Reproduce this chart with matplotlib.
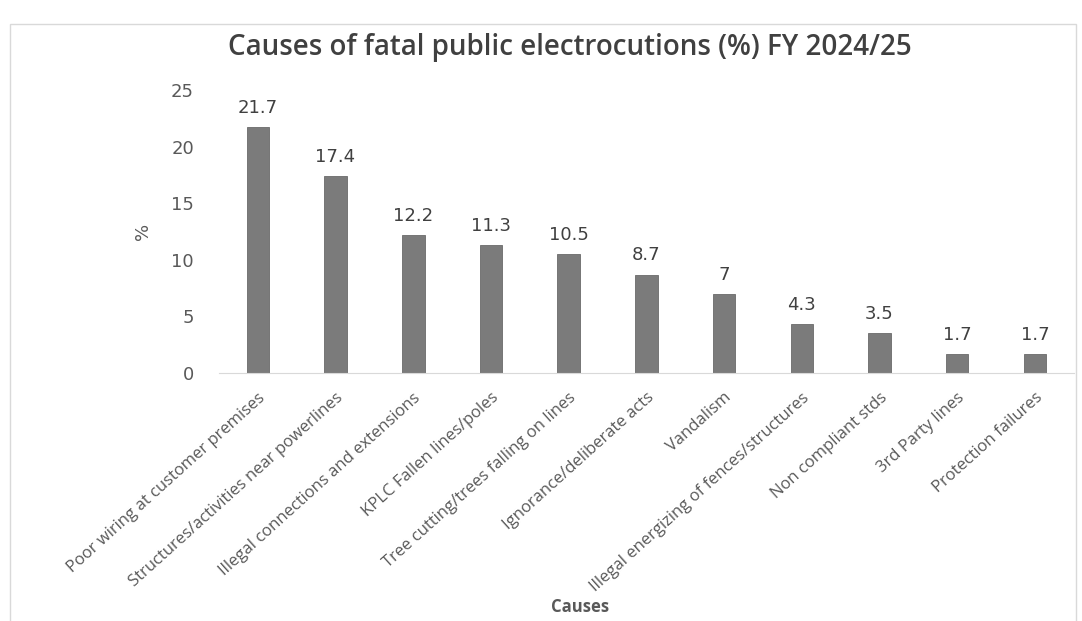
import matplotlib
matplotlib.use("Agg")
import matplotlib.pyplot as plt
from matplotlib.patches import Rectangle

# chart data
causes = [
    "Poor wiring at customer premises",
    "Structures/activities near powerlines",
    "Illegal connections and extensions",
    "KPLC Fallen lines/poles",
    "Tree cutting/trees falling on lines",
    "Ignorance/deliberate acts",
    "Vandalism",
    "Illegal energizing of fences/structures",
    "Non compliant stds",
    "3rd Party lines",
    "Protection failures",
]
percent = [21.7, 17.4, 12.2, 11.3, 10.5, 8.7, 7, 4.3, 3.5, 1.7, 1.7]
y_ticks = [0, 5, 10, 15, 20, 25]

text_grey = "#595959"
bar_grey = "#7b7b7b"

fig = plt.figure(figsize=(10.82, 6.21), dpi=100)
fig.patch.set_facecolor("white")

# light border around the chart area (runs off the bottom edge)
fig.patches.append(Rectangle((10 / 1082, -5 / 621), 1066 / 1082, 602 / 621,
                             transform=fig.transFigure, fill=False,
                             edgecolor="#d9d9d9", linewidth=1))

ax = fig.add_axes([0.2024, 1 - 373 / 621, 0.79, (373 - 90) / 621])
x = list(range(len(causes)))
ax.bar(x, percent, width=0.29, color=bar_grey, edgecolor="#6a6a6a", linewidth=0.6)

for xi, v in zip(x, percent):
    label = f"{v:g}"
    ax.text(xi, v + 0.9, label, ha="center", va="bottom", fontsize=13,
            color="#404040", family="DejaVu Sans")

ax.set_xlim(-0.5, len(causes) - 0.5)
ax.set_ylim(0, 25)
ax.set_yticks(y_ticks)
ax.set_yticklabels([str(t) for t in y_ticks], fontsize=13, color=text_grey,
                   family="DejaVu Sans")
ax.set_xticks(x)
ax.set_xticklabels(causes, rotation=42, ha="right", rotation_mode="anchor",
                   fontsize=12, color=text_grey, family="Open Sans")
ax.tick_params(axis="both", length=0)
ax.tick_params(axis="y", pad=18)
ax.tick_params(axis="x", pad=12)

for side in ["top", "right", "left"]:
    ax.spines[side].set_visible(False)
ax.spines["bottom"].set_color("#d9d9d9")

ax.set_ylabel("%", fontsize=13, color=text_grey, family="DejaVu Sans", labelpad=14)

fig.text(0.527, 1 - 47 / 621, "Causes of fatal public electrocutions (%) FY 2024/25",
         ha="center", va="center", fontsize=20, fontweight="semibold",
         color="#404040", family="Open Sans")
fig.text(0.536, 1 - 607 / 621, "Causes", ha="center", va="center",
         fontsize=12, fontweight="bold", color=text_grey, family="Open Sans")

fig.savefig("out.png", dpi=100)
